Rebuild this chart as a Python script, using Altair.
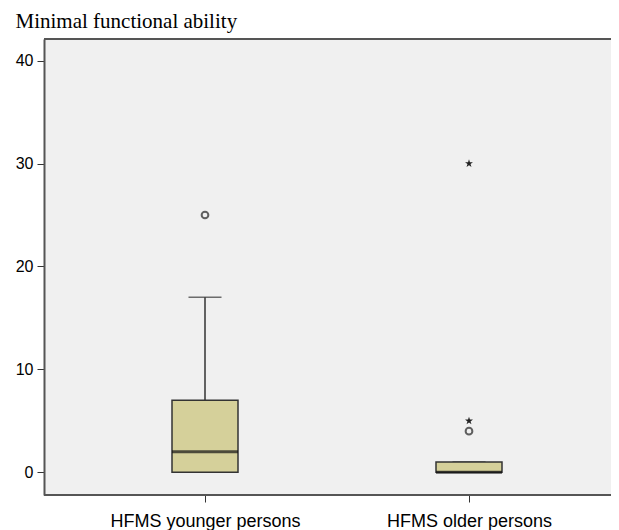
import altair as alt
import pandas as pd

# ---- data ----
groups = ["HFMS younger persons", "HFMS older persons"]
q1 = [0, 0]
median = [2, 0]
q3 = [7, 1]
whisker_lo = [0, 0]
whisker_hi = [17, 1]

outlier_group = ["HFMS younger persons", "HFMS older persons"]
outlier_value = [25, 4]
extreme_group = ["HFMS older persons", "HFMS older persons"]
extreme_value = [30, 5]

y_title = "Minimal functional ability"
y_ticks = [0, 10, 20, 30, 40]

boxes = pd.DataFrame({"group": groups, "q1": q1, "median": median, "q3": q3,
                      "lo": whisker_lo, "hi": whisker_hi})
outliers = pd.DataFrame({"group": outlier_group, "value": outlier_value})
extremes = pd.DataFrame({"group": extreme_group, "value": extreme_value})

W, H = 567, 456
FRAME = "#555555"
BOX_FILL = "#D5D09A"
DARK = "#333333"

xscale = alt.Scale(type="point", domain=groups, range=[161, 425], padding=0)
yscale = alt.Scale(domain=[-2.2, 42.1], nice=False, zero=False)

xaxis = alt.Axis(title=None, labelAngle=0, domain=False, ticks=True, tickSize=7,
                 tickColor=DARK, labelFont="Liberation Sans", labelFontSize=18,
                 labelColor="black", labelPadding=10, labelLimit=0, grid=False)
yaxis = alt.Axis(title=y_title, values=y_ticks, grid=False, domain=True,
                 domainColor=FRAME, domainWidth=2, tickSize=7, tickColor=DARK,
                 labelFont="Liberation Sans", labelFontSize=16, labelColor="black",
                 labelPadding=4, titleAngle=0, titleAlign="left",
                 titleBaseline="alphabetic", titleX=-29, titleY=-12,
                 titleFont="Liberation Serif", titleFontSize=21,
                 titleFontWeight="normal", titleColor="black")

X = alt.X("group:N", scale=xscale, axis=xaxis)

base = alt.Chart(boxes)

whisker = base.mark_rule(color=DARK, strokeWidth=1.5).encode(
    x=X, y=alt.Y("lo:Q", scale=yscale, axis=yaxis), y2="hi:Q")
cap_lo = base.mark_tick(color=DARK, size=33, thickness=1.5).encode(x=X, y=alt.Y("lo:Q", scale=yscale))
cap_hi = base.mark_tick(color=DARK, size=33, thickness=1.5).encode(x=X, y=alt.Y("hi:Q", scale=yscale))
box = base.mark_bar(size=66, fill=BOX_FILL, stroke=DARK, strokeWidth=1.5).encode(
    x=X, y=alt.Y("q1:Q", scale=yscale), y2="q3:Q")
med = base.mark_tick(color="#111111", size=66, thickness=3).encode(
    x=X, y=alt.Y("median:Q", scale=yscale))

circles = alt.Chart(outliers).mark_point(shape="circle", filled=False, size=45,
                                         color="#222222", strokeWidth=2).encode(
    x=X, y=alt.Y("value:Q", scale=yscale))

star_path = ("M0,-1L0.2245,-0.309L0.9511,-0.309L0.3633,0.118L0.5878,0.809"
             "L0,0.382L-0.5878,0.809L-0.3633,0.118L-0.9511,-0.309L-0.2245,-0.309Z")
stars = alt.Chart(extremes).mark_point(shape=star_path, filled=True, size=70,
                                       color="#222222", opacity=1).encode(
    x=X, y=alt.Y("value:Q", scale=yscale))

one = alt.Data(values=[{"k": 0}])
top_rule = alt.Chart(one).mark_rule(color=FRAME, strokeWidth=2).encode(
    x=alt.value(0), x2=alt.value(W), y=alt.value(0))
bottom_rule = alt.Chart(one).mark_rule(color=FRAME, strokeWidth=2).encode(
    x=alt.value(0), x2=alt.value(W), y=alt.value(H))

chart = alt.layer(
    whisker, cap_lo, cap_hi, box, med, circles, stars, top_rule, bottom_rule
).properties(
    width=W, height=H,
    autosize=alt.AutoSizeParams(type="none"),
    padding={"left": 36, "top": 31, "right": 0, "bottom": 35},
    background="white",
).configure_view(stroke=None, fill="#F0F0F0")

chart.save("out.html", embed_options={"renderer": "svg", "actions": False})
